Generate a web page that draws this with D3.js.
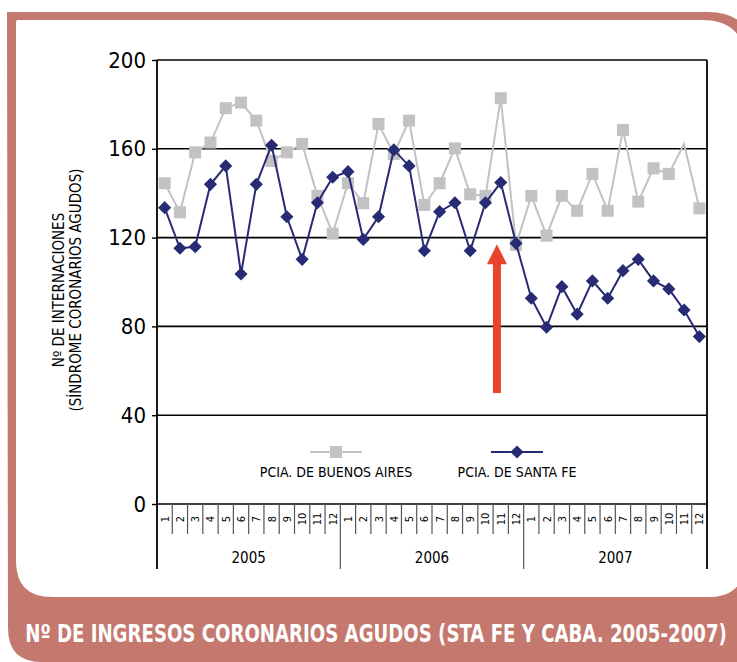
<!DOCTYPE html>
<html>
<head>
<meta charset="utf-8">
<script src="https://cdn.jsdelivr.net/npm/d3@7"></script>
<style>
  body { margin: 0; background: #fff; }
  svg { display: block; }
</style>
</head>
<body>
<div id="chart"></div>
<script>
// data, monthly 2005-2007
const years = ["2005", "2006", "2007"];
const months = ["1","2","3","4","5","6","7","8","9","10","11","12"];
const buenosAires = [
  144.5, 131.4, 158.4, 162.8, 178.3, 180.8, 172.7, 154.5, 158.4, 162.2, 138.8, 121.8,
  144.5, 135.5, 171.2, 157.7, 172.7, 134.7, 144.5, 160.2, 139.5, 138.8, 182.8, 116.7,
  138.8, 120.9, 138.8, 132.1, 148.7, 132.1, 168.5, 136.2, 151.2, 148.7, 162.2, 133.2
];
const santaFe = [
  133.5, 115.2, 115.9, 144.0, 152.3, 103.6, 144.0, 161.6, 129.4, 110.2, 135.7, 147.2,
  149.7, 119.2, 129.4, 159.5, 152.3, 114.1, 131.7, 135.7, 114.1, 135.7, 144.8, 117.4,
  92.7, 79.6, 97.9, 85.5, 100.5, 92.7, 105.1, 110.2, 100.5, 96.9, 87.4, 75.4
];
const noMarkerBA = [34];   // the peak in 2007 has no marker in the source
const yTicks = [0, 40, 80, 120, 160, 200];
const arrowFrom = 50, arrowTo = 117;

const W = 737, H = 662;
const brown = "#c4786e", navy = "#262b73", grey = "#c2c2c2", red = "#e8432b";
const narrow = "'Liberation Sans Narrow', 'DejaVu Sans Condensed', sans-serif";

const svg = d3.select("#chart").append("svg")
  .attr("width", W).attr("height", H);

// frame
svg.append("path")
  .attr("fill", brown)
  .attr("d", "M7,12 L708,12 Q752,12 752,56 L752,662 L42,662 Q8,662 8,628 Z");
svg.append("path")
  .attr("fill", "#fff")
  .attr("d", "M18,20 L702,20 Q745,20 745,63 L745,560 Q745,597 708,597 L52,597 Q16,597 16,561 L16,22 Q16,20 18,20 Z");

// title, fitted to the band width then stretched back to full height
const title = svg.append("text")
  .attr("text-anchor", "middle")
  .attr("fill", "#fff")
  .attr("font-family", narrow)
  .attr("font-weight", "bold")
  .attr("font-size", 24)
  .text("Nº DE INGRESOS CORONARIOS AGUDOS (STA FE Y CABA. 2005-2007)");
const titleLen = title.node().getComputedTextLength();
const titleSize = titleLen > 702 ? 24 * 702 / titleLen : 24;
title.attr("font-size", titleSize)
  .attr("transform", `translate(376,642) scale(1,${(25 / titleSize).toFixed(3)})`);

// scales
const plotL = 157, plotR = 707, plotT = 60, plotB = 504;
const idx = d3.range(buenosAires.length);
const x = d3.scaleBand().domain(idx).range([plotL, plotR]).padding(0);
const bw = x.bandwidth();
const cx = i => x(i) + bw / 2;
const y = d3.scaleLinear().domain([0, 200]).range([plotB, plotT]);

// grid
svg.append("g").selectAll("line")
  .data(yTicks)
  .join("line")
  .attr("x1", plotL).attr("x2", plotR)
  .attr("y1", d => y(d)).attr("y2", d => y(d))
  .attr("stroke", "#000").attr("stroke-width", 1.6);

// y axis
const yAxis = svg.append("g")
  .attr("transform", `translate(${plotL},0)`)
  .call(d3.axisLeft(y).tickValues(yTicks).tickSize(5).tickPadding(6));
yAxis.select(".domain").remove();
yAxis.selectAll("line").attr("stroke", "#000").attr("stroke-width", 1.4);
yAxis.selectAll("text")
  .attr("font-family", narrow).attr("font-size", 22).attr("fill", "#000");

svg.append("line")
  .attr("x1", plotL).attr("x2", plotL).attr("y1", plotT).attr("y2", 569)
  .attr("stroke", "#000").attr("stroke-width", 1.8);
svg.append("line")
  .attr("x1", plotR).attr("x2", plotR).attr("y1", plotT).attr("y2", 569)
  .attr("stroke", "#000").attr("stroke-width", 1.8);

// month separators and labels
svg.append("g").selectAll("line")
  .data(idx.slice(1))
  .join("line")
  .attr("x1", d => x(d)).attr("x2", d => x(d))
  .attr("y1", plotB).attr("y2", d => d % 12 === 0 ? 569 : 534)
  .attr("stroke", "#555").attr("stroke-width", 1.2);

svg.append("g").selectAll("text")
  .data(idx)
  .join("text")
  .attr("transform", d => `translate(${cx(d) + 4},519) rotate(-90)`)
  .attr("text-anchor", "middle")
  .attr("font-family", narrow).attr("font-size", 11)
  .text(d => months[d % 12]);

svg.append("g").selectAll("text")
  .data(years)
  .join("text")
  .attr("x", (d, i) => (x(i * 12) + x(i * 12 + 11) + bw) / 2)
  .attr("y", 563)
  .attr("text-anchor", "middle")
  .attr("font-family", narrow).attr("font-size", 15)
  .text(d => d);

// y title
const yTitle = svg.append("text")
  .attr("transform", "translate(67,290) rotate(-90)")
  .attr("text-anchor", "middle")
  .attr("font-family", narrow).attr("font-size", 15);
yTitle.append("tspan").attr("x", 0).attr("dy", -3).text("Nº DE INTERNACIONES");
yTitle.append("tspan").attr("x", 0).attr("dy", 17).text("(SÍNDROME CORONARIOS AGUDOS)");

// series
const line = d3.line().x((d, i) => cx(i)).y(d => y(d));

svg.append("path").datum(buenosAires)
  .attr("fill", "none").attr("stroke", grey).attr("stroke-width", 2)
  .attr("d", line);
svg.append("g").selectAll("rect")
  .data(idx.filter(i => !noMarkerBA.includes(i)))
  .join("rect")
  .attr("x", i => cx(i) - 6).attr("y", i => y(buenosAires[i]) - 6)
  .attr("width", 12).attr("height", 12)
  .attr("fill", grey);

svg.append("path").datum(santaFe)
  .attr("fill", "none").attr("stroke", navy).attr("stroke-width", 2)
  .attr("d", line);
const diamond = d3.symbol().type(d3.symbolDiamond2).size(110);
svg.append("g").selectAll("path")
  .data(santaFe)
  .join("path")
  .attr("transform", (d, i) => `translate(${cx(i)},${y(d)})`)
  .attr("d", diamond)
  .attr("fill", navy);

// legend
const legend = [
  { name: "PCIA. DE BUENOS AIRES", color: grey, cx: 336, marker: "square" },
  { name: "PCIA. DE SANTA FE", color: navy, cx: 517, marker: "diamond" }
];
const lg = svg.append("g").selectAll("g").data(legend).join("g")
  .attr("transform", d => `translate(${d.cx},452)`);
lg.append("line")
  .attr("x1", -26).attr("x2", 26)
  .attr("stroke", d => d.color).attr("stroke-width", 2);
lg.filter(d => d.marker === "square").append("rect")
  .attr("x", -6).attr("y", -6).attr("width", 12).attr("height", 12)
  .attr("fill", d => d.color);
lg.filter(d => d.marker === "diamond").append("path")
  .attr("d", diamond).attr("fill", d => d.color);
lg.append("text")
  .attr("y", 25).attr("text-anchor", "middle")
  .attr("font-family", narrow).attr("font-size", 14)
  .text(d => d.name);

// red arrow
const ax = x(22) + bw * 0.25;
const yTip = y(arrowTo), yBase = y(arrowFrom);
svg.append("rect")
  .attr("x", ax - 4).attr("y", yTip + 18)
  .attr("width", 8).attr("height", yBase - yTip - 18)
  .attr("fill", red);
svg.append("path")
  .attr("d", `M${ax},${yTip} L${ax + 10},${yTip + 20} L${ax - 10},${yTip + 20} Z`)
  .attr("fill", red);
</script>
</body>
</html>
